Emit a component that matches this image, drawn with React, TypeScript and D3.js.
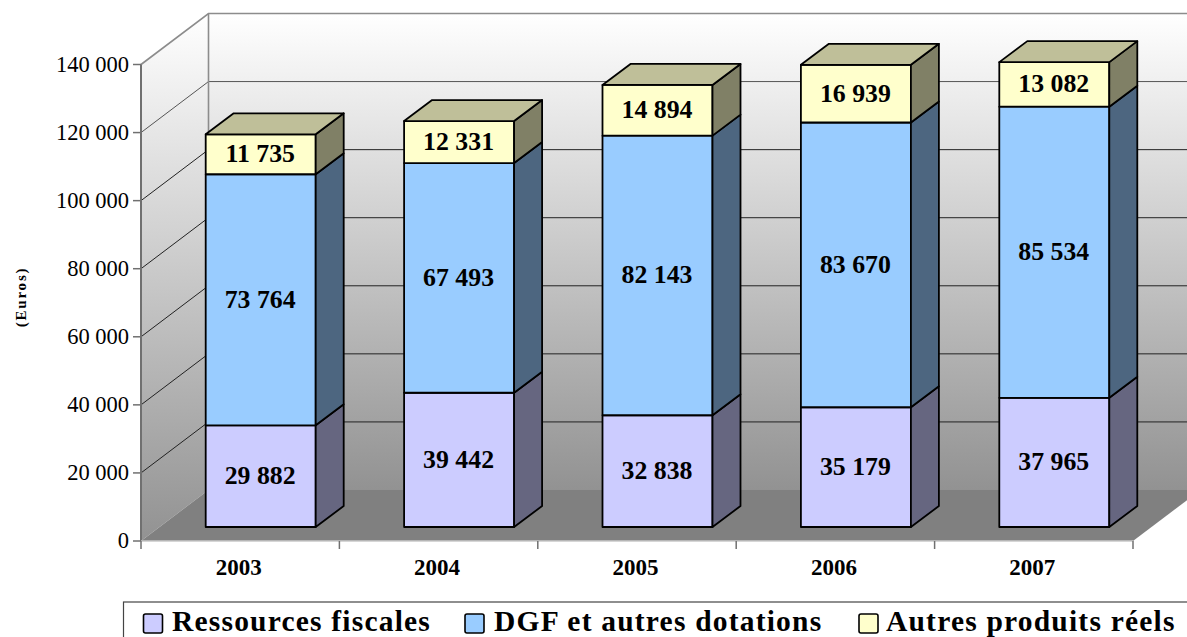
import React from "react";
import * as d3 from "d3";

const years = ["2003", "2004", "2005", "2006", "2007"];
const ressourcesFiscales = [29882, 39442, 32838, 35179, 37965];
const dgfDotations = [73764, 67493, 82143, 83670, 85534];
const autresProduits = [11735, 12331, 14894, 16939, 13082];
const yTicks = [0, 20000, 40000, 60000, 80000, 100000, 120000, 140000];

const seriesNames = ["Ressources fiscales", "DGF et autres dotations", "Autres produits réels"];
const seriesValues = [ressourcesFiscales, dgfDotations, autresProduits];
const frontColors = ["#ccccff", "#99ccff", "#ffffcc"];
const sideColors = ["#666680", "#4d6680", "#808066"];
const topColor = "#bfbf99";

const W = 1187;
const H = 637;
const SERIF = "'Liberation Serif', 'Times New Roman', serif";

// Front plane of the 3D box and the depth offset to its rear wall
const x0 = 141;
const x1 = 1133;
const yBase = 541;
const yTop = 64.5;
const depthX = 67.5;
const depthY = -51;
// Bars stand partway into the floor
const barDX = 20.5;
const barDY = -14;
const barDepthX = 28;
const barDepthY = -21;

const fmt = (v: number) => d3.format(",")(v).replace(/,/g, " ");

export default function App() {
  const y = d3.scaleLinear().domain([0, 140000]).range([yBase, yTop]);
  const x = d3.scaleBand<string>().domain(years).range([x0, x1]);
  const barW = 110;

  const stack = d3
    .stack<number>()
    .keys([0, 1, 2] as any)
    .value((i: number, k: any) => seriesValues[k][i])(years.map((_, i) => i));

  const poly = (pts: number[][]) => pts.map((p) => p.join(",")).join(" ");
  const backL = x0 + depthX;
  const backR = x1 + depthX;

  return (
    <svg
      width={W}
      height={H}
      viewBox={`0 0 ${W} ${H}`}
      style={{ position: "absolute", left: 0, top: 0, background: "#fff" }}
      fontFamily={SERIF}
    >
      <defs>
        <linearGradient id="backWall" x1="0" y1="0" x2="0" y2="1">
          <stop offset="0" stopColor="#ffffff" />
          <stop offset="1" stopColor="#929292" />
        </linearGradient>
        <linearGradient id="sideWall" gradientUnits="userSpaceOnUse" x1="0" y1={y(140000) + depthY} x2="0" y2={yBase}>
          <stop offset="0" stopColor="#ffffff" />
          <stop offset="1" stopColor="#929292" />
        </linearGradient>
      </defs>

      {/* Walls and floor */}
      <rect x={backL} y={yTop + depthY} width={backR - backL} height={yBase - yTop} fill="url(#backWall)" />
      <polygon
        points={poly([
          [x0, yBase],
          [x0, yTop],
          [backL, yTop + depthY],
          [backL, yBase + depthY],
        ])}
        fill="url(#sideWall)"
      />
      <polygon
        points={poly([
          [x0, yBase],
          [x1, yBase],
          [backR, yBase + depthY],
          [backL, yBase + depthY],
        ])}
        fill="#808080"
      />

      {/* Gridlines across the side wall and rear wall */}
      {yTicks.slice(1, -1).map((t) => (
        <polyline
          key={t}
          points={poly([
            [x0, y(t)],
            [backL, y(t) + depthY],
            [backR, y(t) + depthY],
          ])}
          fill="none"
          stroke={t === 120000 ? "#555" : "#222"}
          strokeWidth={1}
        />
      ))}
      <polyline
        points={poly([
          [x0, yTop],
          [backL, yTop + depthY],
          [backR, yTop + depthY],
        ])}
        fill="none"
        stroke="#8c8c8c"
        strokeWidth={1.6}
      />
      <line x1={backL} x2={backL} y1={yTop + depthY} y2={yBase + depthY} stroke="#8c8c8c" strokeWidth={1.6} />

      {/* Bars */}
      {years.map((yr, i) => {
        const left = (x(yr) as number) + (x.bandwidth() - barW) / 2 + barDX;
        const right = left + barW;
        return (
          <g key={yr} stroke="#000" strokeWidth={1.8} strokeLinejoin="round">
            {stack.map((layer, s) => {
              const lo = y(layer[i][0]) + barDY;
              const hi = y(layer[i][1]) + barDY;
              return (
                <g key={s}>
                  <rect x={left} y={hi} width={barW} height={lo - hi} fill={frontColors[s]} />
                  <polygon
                    points={poly([
                      [right, lo],
                      [right, hi],
                      [right + barDepthX, hi + barDepthY],
                      [right + barDepthX, lo + barDepthY],
                    ])}
                    fill={sideColors[s]}
                  />
                  {s === 2 && (
                    <polygon
                      points={poly([
                        [left, hi],
                        [left + barDepthX, hi + barDepthY],
                        [right + barDepthX, hi + barDepthY],
                        [right, hi],
                      ])}
                      fill={topColor}
                    />
                  )}
                </g>
              );
            })}
            {stack.map((layer, s) => (
              <text
                key={s}
                x={left + barW / 2 - 0.5}
                y={(y(layer[i][0]) + y(layer[i][1])) / 2 + barDY + 8}
                textAnchor="middle"
                fontSize={25.8}
                fontWeight="bold"
                fill="#000"
                stroke="none"
              >
                {fmt(seriesValues[s][i])}
              </text>
            ))}
          </g>
        );
      })}

      {/* Value axis */}
      <line x1={x0} x2={x0} y1={yTop} y2={yBase} stroke="#707070" strokeWidth={2} />
      {yTicks.map((t) => (
        <g key={t}>
          <line x1={x0 - 8} x2={x0} y1={y(t)} y2={y(t)} stroke="#707070" strokeWidth={1.5} />
          <text x={129} y={y(t) + 7} textAnchor="end" fontSize={22.5} fill="#000">
            {fmt(t)}
          </text>
        </g>
      ))}

      {/* Category axis */}
      <line x1={x0} x2={x1} y1={yBase} y2={yBase} stroke="#c8c8c8" strokeWidth={1.5} />
      {[...years.map((yr) => x(yr) as number), x1].map((tx) => (
        <line key={tx} x1={tx} x2={tx} y1={yBase} y2={yBase + 8} stroke="#707070" strokeWidth={1.5} />
      ))}
      {years.map((yr) => (
        <text
          key={yr}
          x={(x(yr) as number) + x.bandwidth() / 2 - 1.5}
          y={575}
          textAnchor="middle"
          fontSize={23}
          fontWeight="bold"
        >
          {yr}
        </text>
      ))}

      <text
        transform="translate(26,297) rotate(-90)"
        textAnchor="middle"
        fontSize={15}
        fontWeight="bold"
        letterSpacing={1.8}
      >
        (Euros)
      </text>

      {/* Legend */}
      <rect x={123.5} y={602} width={1100} height={60} fill="#fff" stroke="#444" strokeWidth={1.2} />
      {seriesNames.map((name, i) => {
        const sx = [143.5, 465, 859][i];
        const tx = [172, 494, 886][i];
        return (
          <g key={name}>
            <rect x={sx} y={614} width={19} height={19} rx={2} fill={frontColors[i]} stroke="#000" strokeWidth={1.6} />
            <text x={tx} y={631} fontSize={29.5} fontWeight="bold" letterSpacing={1.2}>
              {name}
            </text>
          </g>
        );
      })}
    </svg>
  );
}
